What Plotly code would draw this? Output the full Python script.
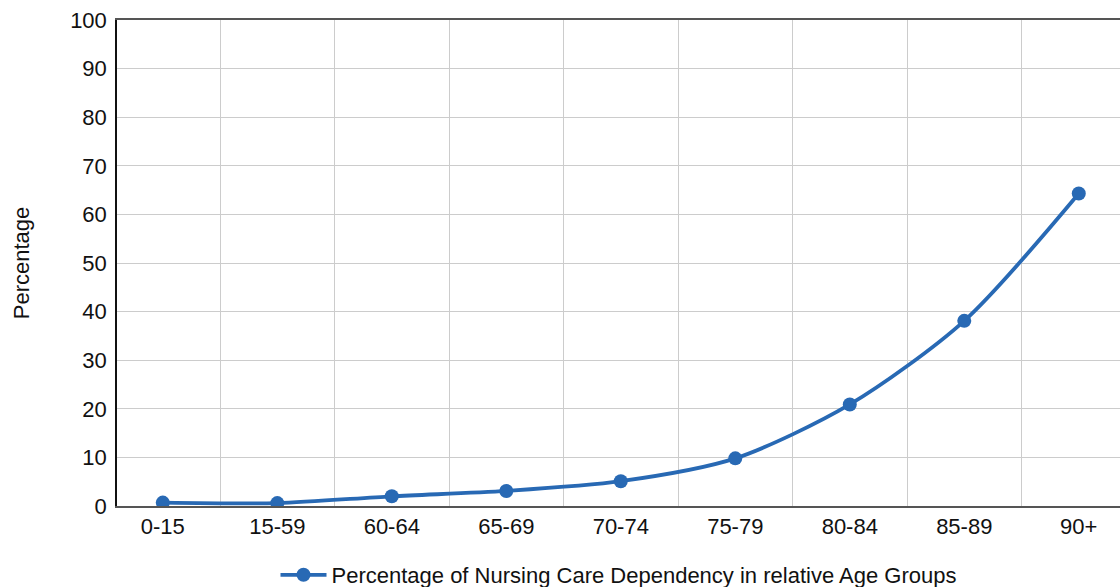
import plotly.graph_objects as go

age_groups = ["0-15", "15-59", "60-64", "65-69", "70-74", "75-79", "80-84", "85-89", "90+"]
dependency_pct = [0.7, 0.6, 2.0, 3.1, 5.1, 9.8, 20.9, 38.1, 64.3]
series_name = "Percentage of Nursing Care Dependency in relative Age Groups"
y_ticks = [0, 10, 20, 30, 40, 50, 60, 70, 80, 90, 100]

line_color = "#2869b4"
font_family = "Liberation Sans, Arial, sans-serif"
text_size = 22

fig = go.Figure()
fig.add_trace(go.Scatter(
    x=age_groups,
    y=dependency_pct,
    mode="lines+markers",
    name=series_name,
    line=dict(color=line_color, width=3.8, shape="spline", smoothing=0.8),
    marker=dict(color=line_color, size=14),
))

fig.update_layout(
    width=1120,
    height=587,
    margin=dict(l=117, r=0, t=20, b=81, autoexpand=False),
    paper_bgcolor="white",
    plot_bgcolor="white",
    font=dict(family=font_family, size=text_size, color="#111111"),
    showlegend=True,
    legend=dict(
        orientation="h",
        x=0.5, xanchor="center",
        y=-0.142, yanchor="middle",
        font=dict(size=text_size, color="#111111"),
        itemwidth=46,
    ),
)

fig.update_xaxes(
    type="category",
    range=[-0.40, 8.36],
    tickson="boundaries",
    showgrid=True,
    gridcolor="#cccccc",
    gridwidth=1,
    showline=True,
    linecolor="#555555",
    linewidth=1.5,
    mirror=True,
    ticks="",
    ticklabelstandoff=0,
    tickfont=dict(size=text_size),
    zeroline=False,
)

fig.update_yaxes(
    range=[0, 100],
    tickvals=y_ticks,
    showgrid=True,
    gridcolor="#cccccc",
    gridwidth=1,
    showline=True,
    linecolor="#111111",
    linewidth=1.5,
    ticks="",
    ticklabelstandoff=4,
    tickfont=dict(size=text_size),
    zeroline=False,
    title=dict(text="Percentage", font=dict(size=text_size), standoff=34),
)

fig.write_html("out.html")
